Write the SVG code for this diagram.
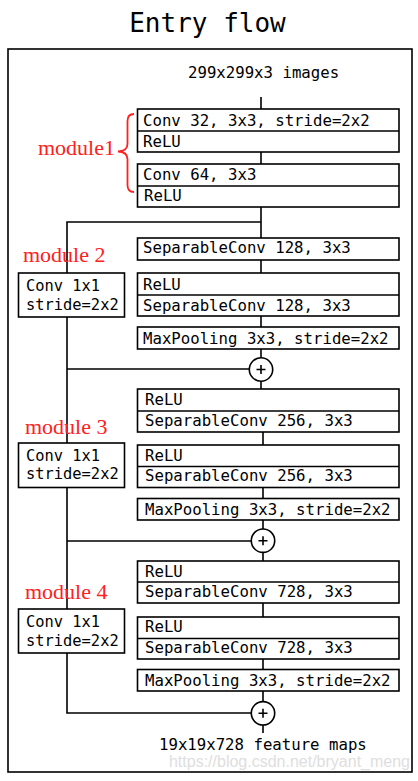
<svg xmlns="http://www.w3.org/2000/svg" width="418" height="781" viewBox="0 0 418 781">
<style>
.t{font-family:"DejaVu Sans Mono","Liberation Mono",monospace;font-size:15.7px;fill:#000}
.s{font-family:"DejaVu Sans Mono","Liberation Mono",monospace;font-size:15.4px;fill:#000}
.b{fill:#fff;stroke:#000;stroke-width:1.6}
.l{fill:none;stroke:#000;stroke-width:1.6}
.m{font-family:"Liberation Serif","DejaVu Serif",serif;font-size:22px;fill:#ff2020}
</style>
<rect width="418" height="781" fill="#fff"/>
<text x="207.5" y="32" text-anchor="middle" font-family="DejaVu Sans Mono, Liberation Mono, monospace" font-size="26">Entry flow</text>
<rect x="8" y="49" width="404" height="723" class="l"/>
<text class="t" x="188" y="78">299x299x3 images</text>
<g id="connectors">
<path class="l" d="M261 97V109M261 152V164M261 207V238M261 222H67V273M261 260V273M261 316V327M261 349V358M261 381V389M67 317V443M67 369H249"/>
<path class="l" d="M263 432V445M263 487V498M263 520V529M263 552V561M67 487V609M67 541H251"/>
<path class="l" d="M263 603V617M263 659V669M263 691V701M263 725V733M67 653V713H251"/>
</g>
<g id="module1_conv32"><rect class="b" x="137.5" y="109" width="261.5" height="43"/><line class="l" x1="137.5" y1="131" x2="399" y2="131"/><text class="t" x="143" y="125.5">Conv 32, 3x3, stride=2x2</text><text class="t" x="143" y="146.5">ReLU</text></g>
<g id="module1_conv64"><rect class="b" x="137.5" y="164" width="261.5" height="43"/><line class="l" x1="137.5" y1="186" x2="399" y2="186"/><text class="t" x="143" y="180">Conv 64, 3x3</text><text class="t" x="144" y="201">ReLU</text></g>
<g id="module1_label"><text class="m" x="38" y="155">module1</text><path d="M134 114Q127.5 114 127.5 121V144Q127.5 151 118 151.5Q127.5 152 127.5 159V185Q127.5 192 134 192" fill="none" stroke="#ff2020" stroke-width="1.8"/></g>
<g id="m2_sep1"><rect class="b" x="137.5" y="238" width="261.5" height="22"/><text class="t" x="143" y="253">SeparableConv 128, 3x3</text></g>
<g id="m2_sep2"><rect class="b" x="137.5" y="273" width="261.5" height="43"/><line class="l" x1="137.5" y1="295" x2="399" y2="295"/><text class="t" x="143" y="290">ReLU</text><text class="t" x="143" y="311">SeparableConv 128, 3x3</text></g>
<g id="m2_pool"><rect class="b" x="137.5" y="327" width="261.5" height="22"/><text class="t" x="143" y="343.5">MaxPooling 3x3, stride=2x2</text></g>
<g id="m2_conv"><rect class="b" x="18.5" y="273" width="106" height="44"/><text class="s" x="26" y="291">Conv 1x1</text><text class="s" x="26" y="309.5">stride=2x2</text></g>
<text class="m" id="m2_label" x="23" y="262">module 2</text>
<g id="m2_add"><circle class="b" cx="261" cy="369.5" r="11.7"/><path class="l" d="M256.5 369.5H265.5M261 365V374"/></g>
<g id="m3_sep1"><rect class="b" x="137.5" y="389" width="261.5" height="43"/><line class="l" x1="137.5" y1="411" x2="399" y2="411"/><text class="t" x="145" y="405">ReLU</text><text class="t" x="145" y="425.5">SeparableConv 256, 3x3</text></g>
<g id="m3_sep2"><rect class="b" x="137.5" y="445" width="261.5" height="42.5"/><line class="l" x1="137.5" y1="466.5" x2="399" y2="466.5"/><text class="t" x="145" y="460.5">ReLU</text><text class="t" x="145" y="481">SeparableConv 256, 3x3</text></g>
<g id="m3_pool"><rect class="b" x="137.5" y="498.5" width="261.5" height="21.5"/><text class="t" x="145" y="514.5">MaxPooling 3x3, stride=2x2</text></g>
<g id="m3_conv"><rect class="b" x="18.5" y="443" width="106" height="44.5"/><text class="s" x="26" y="460.5">Conv 1x1</text><text class="s" x="26" y="479">stride=2x2</text></g>
<text class="m" id="m3_label" x="25" y="433.5">module 3</text>
<g id="m3_add"><circle class="b" cx="263" cy="540.7" r="11.7"/><path class="l" d="M258.5 540.7H267.5M263 536.2V545.2"/></g>
<g id="m4_sep1"><rect class="b" x="137.5" y="561" width="261.5" height="42"/><line class="l" x1="137.5" y1="582" x2="399" y2="582"/><text class="t" x="145" y="577">ReLU</text><text class="t" x="145" y="597">SeparableConv 728, 3x3</text></g>
<g id="m4_sep2"><rect class="b" x="137.5" y="617" width="261.5" height="42"/><line class="l" x1="137.5" y1="638.5" x2="399" y2="638.5"/><text class="t" x="145" y="632">ReLU</text><text class="t" x="145" y="653">SeparableConv 728, 3x3</text></g>
<g id="m4_pool"><rect class="b" x="137.5" y="669.5" width="261.5" height="21.5"/><text class="t" x="145" y="685.5">MaxPooling 3x3, stride=2x2</text></g>
<g id="m4_conv"><rect class="b" x="18.5" y="609" width="106" height="44"/><text class="s" x="26" y="626.5">Conv 1x1</text><text class="s" x="26" y="645.5">stride=2x2</text></g>
<text class="m" id="m4_label" x="25" y="598.5">module 4</text>
<g id="m4_add"><circle class="b" cx="263" cy="713.3" r="11.7"/><path class="l" d="M258.5 713.3H267.5M263 708.8V717.8"/></g>
<text class="t" x="159" y="749.5">19x19x728 feature maps</text>
<text x="410" y="767" text-anchor="end" font-family="Liberation Sans, Arial, sans-serif" font-size="16" fill="#dedede">https://blog.csdn.net/bryant_meng</text>
</svg>
